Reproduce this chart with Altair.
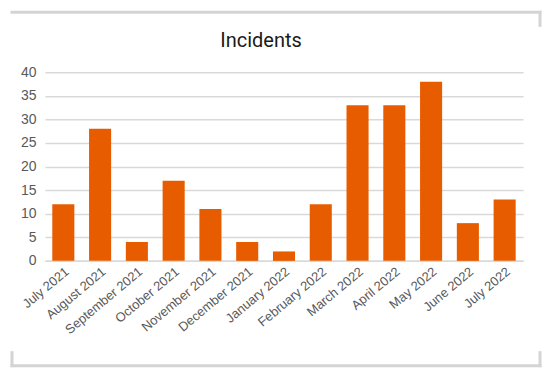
import altair as alt
import pandas as pd

months = ["July 2021", "August 2021", "September 2021", "October 2021", "November 2021",
          "December 2021", "January 2022", "February 2022", "March 2022", "April 2022",
          "May 2022", "June 2022", "July 2022"]
incidents = [12, 28, 4, 17, 11, 4, 2, 12, 33, 33, 38, 8, 13]
y_ticks = [0, 5, 10, 15, 20, 25, 30, 35, 40]
title_text = "Incidents"

df = pd.DataFrame({"month": months, "incidents": incidents})
one = pd.DataFrame({"k": [0]})

FONT = "Liberation Sans"
GREY = "#595959"

bars = alt.Chart(df).mark_bar(color="#E85C00").encode(
    x=alt.X("month:N", sort=months,
            scale=alt.Scale(paddingInner=0.4, paddingOuter=0.2),
            axis=alt.Axis(title=None, labelAngle=-40, labelFontSize=13, labelColor=GREY,
                          labelFont=FONT, ticks=False, domainColor="#d9d9d9",
                          domainWidth=1.5, labelPadding=4)),
    y=alt.Y("incidents:Q", scale=alt.Scale(domain=[0, 40], nice=False),
            axis=alt.Axis(title=None, values=y_ticks, labelFontSize=14, labelColor=GREY,
                          labelFont=FONT, ticks=False, domain=False, gridColor="#d9d9d9",
                          gridWidth=1.5, labelPadding=9)),
)

title = alt.Chart(one).mark_text(font="Roboto", fontSize=20, fontWeight="normal",
                                 color="#1a1a1a", align="center",
                                 baseline="alphabetic").encode(
    x=alt.value(216.5), y=alt.value(-25), text=alt.value(title_text))

# decorative frame (bracket lines around the picture)
frame_color = "#d4d4d4"
def seg(x1, x2, y1, y2):
    return alt.Chart(one).mark_rule(color=frame_color, strokeWidth=3, strokeCap="square").encode(
        x=alt.value(x1), x2=alt.value(x2), y=alt.value(y1), y2=alt.value(y2))

frame = (seg(-33, 496, -60, -60) + seg(496, 496, -60, -47) +
         seg(-33, 496, 294, 294) + seg(-33, -33, 281, 294) + seg(496, 496, 281, 294))

chart = alt.layer(bars, title, frame).properties(
    width=479, height=189,
    autosize=alt.AutoSizeParams(type="none"),
    padding={"left": 37, "top": 64, "right": 19, "bottom": 110},
).configure_view(stroke=None)

chart.save("out.html", embed_options={"renderer": "svg", "actions": False})
